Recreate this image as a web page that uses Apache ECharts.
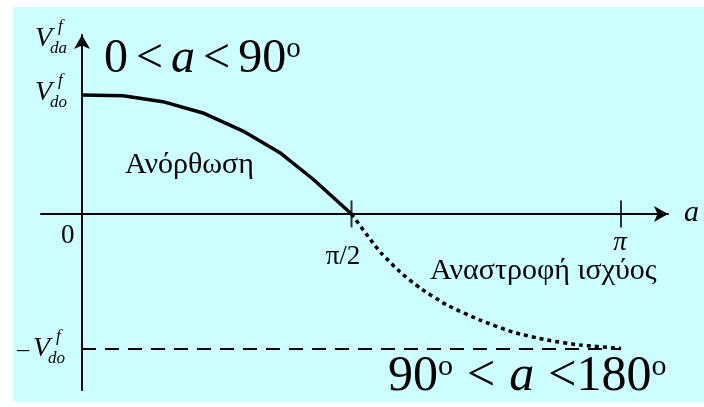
<!DOCTYPE html>
<html>
<head>
<meta charset="utf-8">
<script src="https://cdn.jsdelivr.net/npm/echarts@6/dist/echarts.min.js"></script>
<style>
  html, body { margin: 0; padding: 0; background: #ffffff; }
  #chart { width: 704px; height: 407px; }
</style>
</head>
<body>
<div id="chart"></div>
<script>
// Firing angle a in degrees; output voltage in units of V_do^f.
const rectifyAngle = [0, 13.7, 27.0, 40.4, 53.8, 66.1, 77.1, 90];
const rectifyVolt  = [1.0, 0.994, 0.944, 0.849, 0.697, 0.515, 0.294, 0];

const invertAngle = [90, 97.2, 100.2, 106.2, 112.9, 121.9, 132.9, 143.9, 155.3, 166.3, 180];
const invertVolt  = [0, -0.244, -0.336, -0.487, -0.622, -0.765, -0.891, -0.992, -1.059, -1.101, -1.13];

const negLimitAngle = [0, 180];
const negLimitVolt  = [-1.134, -1.134];

const tickAngles = [90, 180];

const SERIF = '"Liberation Serif", "DejaVu Serif", serif';

function pairs(xs, ys) { return xs.map((x, i) => [x, ys[i]]); }

// places a text by its baseline (canvas middle = baseline - 0.305 * size)
function txt(text, x, baseline, size, opts) {
  opts = opts || {};
  return {
    type: 'text',
    z: 50,
    silent: true,
    style: {
      text: text,
      x: x,
      y: baseline - 0.305 * size,
      font: (opts.italic ? 'italic ' : '') + size + 'px ' + SERIF,
      fill: '#000',
      align: opts.align || 'left',
      verticalAlign: 'middle'
    }
  };
}

// V with superscript f and a subscript
function vLabel(prefix, sub, x, baseline) {
  const els = [];
  if (prefix) {
    els.push(txt('–', x - 16, baseline, 24));
  }
  els.push(txt('V', x, baseline, 28, { italic: true }));
  els.push(txt('f', x + 23, baseline - 15, 17, { italic: true }));
  els.push(txt(sub, x + 15, baseline + 7, 17, { italic: true }));
  return els;
}

const chart = echarts.init(document.getElementById('chart'), null, { renderer: 'canvas' });

function formulaRich(size, gap) {
  const sup = Math.round(size * 0.6);
  return {
    n: { fontFamily: SERIF, fontSize: size, color: '#000', padding: [0, gap, 0, 0] },
    l: { fontFamily: SERIF, fontSize: size, color: '#000' },
    i: { fontFamily: SERIF, fontSize: size, fontStyle: 'italic', color: '#000', padding: [0, gap, 0, 0] },
    s: { fontFamily: SERIF, fontSize: sup, color: '#000', verticalAlign: 'top',
         lineHeight: sup, padding: [0, gap, 0, 0] },
    e: { fontFamily: SERIF, fontSize: sup, color: '#000', verticalAlign: 'top', lineHeight: sup }
  };
}

const option = {
  backgroundColor: '#ffffff',
  animation: false,
  grid: { left: 41, right: 704 - 668, top: 35, bottom: 407 - 390, containLabel: false },
  xAxis: {
    type: 'value',
    min: -13.69,
    max: 195.7,
    axisLine: {
      onZero: true,
      symbol: ['none', 'arrow'],
      symbolSize: [12, 14],
      lineStyle: { color: '#000', width: 2 }
    },
    axisTick: { show: false },
    axisLabel: { show: false },
    splitLine: { show: false }
  },
  yAxis: {
    type: 'value',
    min: -1.479,
    max: 1.504,
    axisLine: {
      onZero: true,
      symbol: ['none', 'arrow'],
      symbolSize: [12, 14],
      lineStyle: { color: '#000', width: 2 }
    },
    axisTick: { show: false },
    axisLabel: { show: false },
    splitLine: { show: false }
  },
  series: [
    {
      name: 'Ανόρθωση',
      type: 'line',
      data: pairs(rectifyAngle, rectifyVolt),
      showSymbol: false,
      lineStyle: { color: '#000', width: 3.5 },
      z: 5
    },
    {
      name: 'Αναστροφή ισχύος',
      type: 'line',
      data: pairs(invertAngle, invertVolt),
      showSymbol: false,
      smooth: 0.2,
      lineStyle: { color: '#000', width: 3.5, type: [4, 4] },
      z: 5
    },
    {
      name: '-Vdo',
      type: 'line',
      data: pairs(negLimitAngle, negLimitVolt),
      showSymbol: false,
      lineStyle: { color: '#000', width: 2, type: [14, 9] },
      z: 4
    },
    {
      name: 'ticks',
      type: 'scatter',
      data: tickAngles.map(a => [a, 0]),
      symbol: 'rect',
      symbolSize: [2, 27],
      itemStyle: { color: '#000' },
      silent: true,
      z: 6
    }
  ],
  graphic: [
    {
      type: 'rect',
      z: -100,
      silent: true,
      shape: { x: 13, y: 7, width: 704 - 13, height: 402 - 7 },
      style: { fill: '#CCFFFF' }
    },
    // range of the rectifier region
    {
      type: 'text', z: 50, silent: true,
      style: {
        text: '{n|0}{n|<}{i|a}{n|<}{l|90}{e|o}',
        rich: formulaRich(48, 8),
        x: 104, y: 74 - 0.305 * 48,
        verticalAlign: 'middle'
      }
    },
    // range of the inverter region
    {
      type: 'text', z: 50, silent: true,
      style: {
        text: '{l|90}{s|o}{n|<}{i|a}{l|<180}{e|o}',
        rich: formulaRich(50, 14),
        x: 388, y: 392 - 0.305 * 50,
        verticalAlign: 'middle'
      }
    },
    ...vLabel('', 'da', 35, 47),
    ...vLabel('', 'do', 35, 101),
    ...vLabel('–', 'do', 33, 357),
    txt('Ανόρθωση', 125, 174, 30),
    txt('Αναστροφή ισχύος', 430, 280, 30),
    txt('0', 61, 244, 27),
    txt('π', 620, 251, 27, { align: 'center', italic: true }),
    txt('π/2', 343, 265, 27, { align: 'center' }),
    txt('a', 684, 222, 30, { italic: true })
  ]
};

chart.setOption(option);
</script>
</body>
</html>
